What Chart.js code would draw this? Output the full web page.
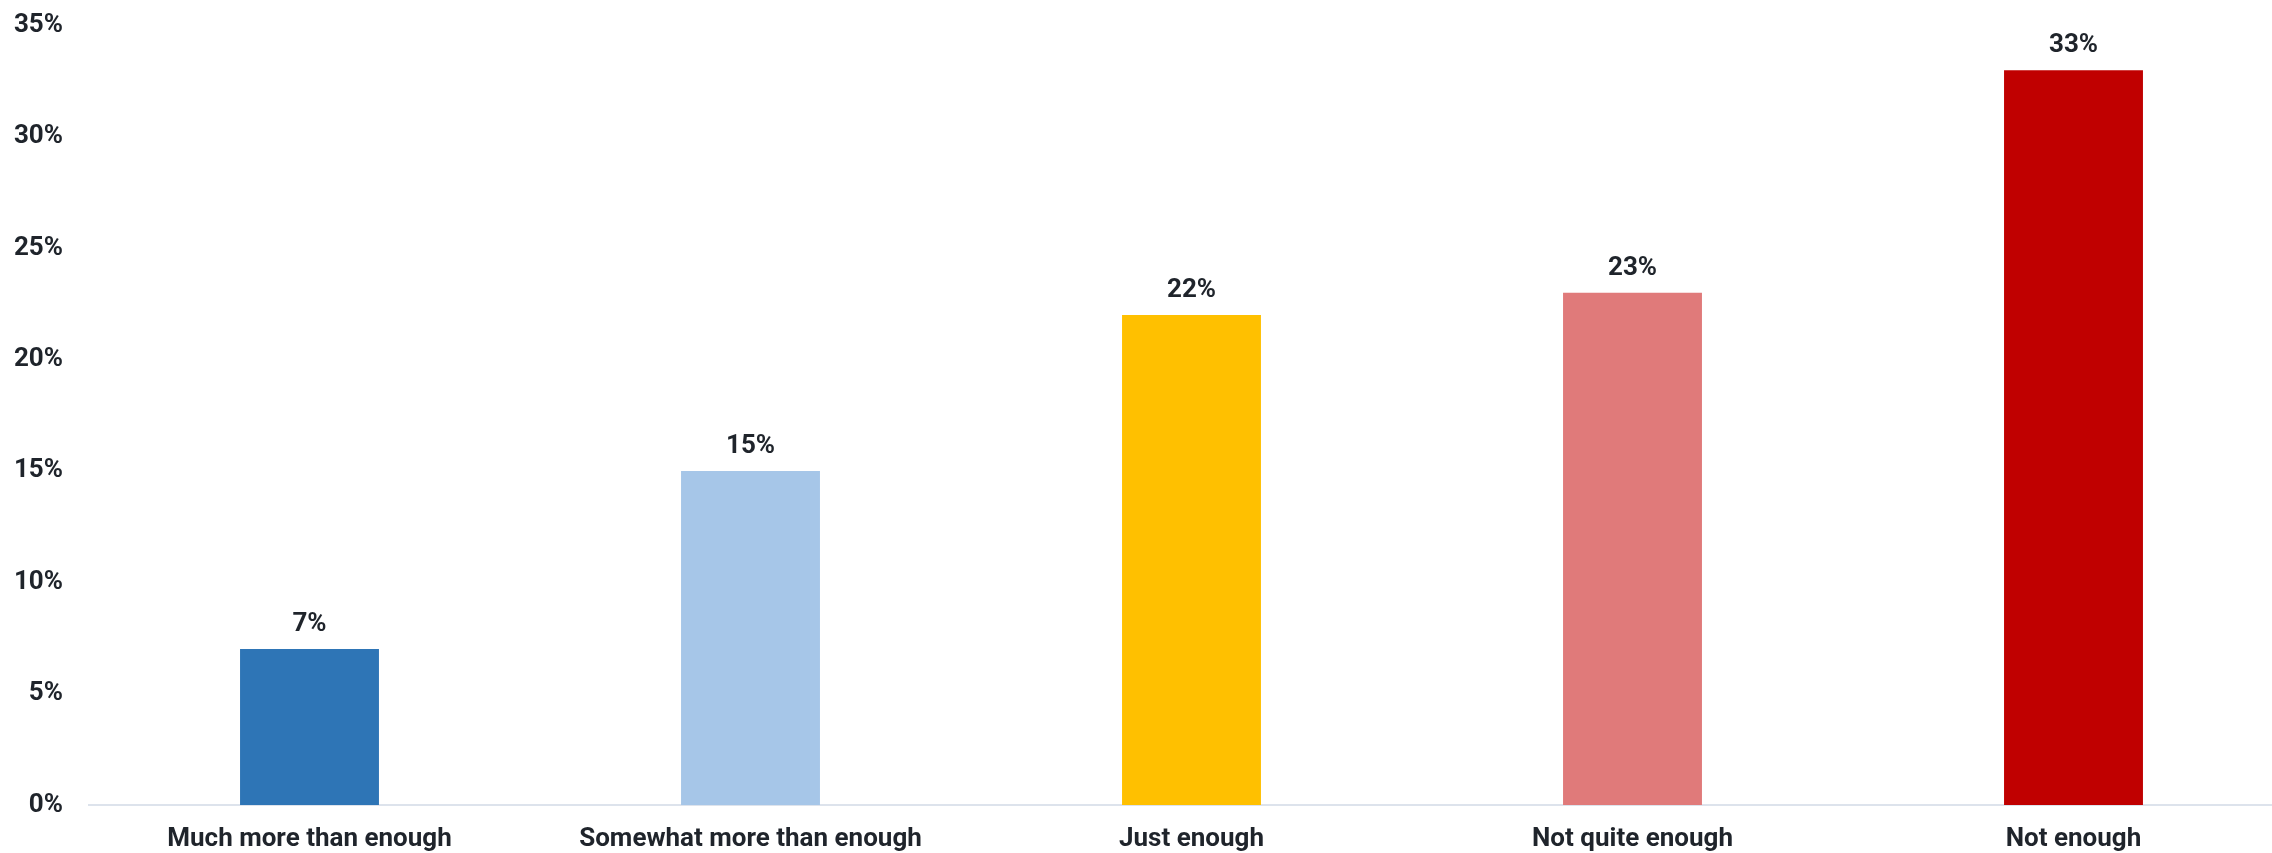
<!DOCTYPE html>
<html>
<head>
<meta charset="utf-8">
<script src="https://cdn.jsdelivr.net/npm/chart.js@4.4.1/dist/chart.umd.min.js"></script>
<style>
  html, body { margin: 0; padding: 0; background: #fff; overflow: hidden; }
  #wrap { width: 2294px; height: 869px; margin-top: -16px; position: relative; }
</style>
</head>
<body>
<div id="wrap"><canvas id="bars"></canvas></div>
<script>
const categories = ['Much more than enough', 'Somewhat more than enough', 'Just enough', 'Not quite enough', 'Not enough'];
const shares = [7, 15, 22, 23, 33];
const barColors = ['#2e75b6', '#a6c6e8', '#ffc000', '#e07a7a', '#c00000'];

const textColor = '#1f242b';
const font = { family: 'Roboto', size: 26, weight: 'bold' };

// percentage labels above each bar
const valueLabels = {
    id: 'valueLabels',
    afterDatasetsDraw(chart) {
        const ctx = chart.ctx;
        const meta = chart.getDatasetMeta(0);
        ctx.save();
        ctx.font = 'bold 26px Roboto';
        ctx.fillStyle = textColor;
        ctx.textAlign = 'center';
        ctx.textBaseline = 'alphabetic';
        meta.data.forEach((bar, i) => {
            ctx.fillText(shares[i] + '%', bar.x, bar.y - 18);
        });
        ctx.restore();
    }
};

new Chart(document.getElementById('bars'), {
    type: 'bar',
    data: {
        labels: categories,
        datasets: [{
            data: shares,
            backgroundColor: barColors,
            borderWidth: 0,
            categoryPercentage: 1,
            barPercentage: 0.315
        }]
    },
    options: {
        responsive: true,
        maintainAspectRatio: false,
        animation: false,
        layout: { padding: 0 },
        plugins: { legend: { display: false }, tooltip: { enabled: false } },
        scales: {
            x: {
                grid: { display: false, drawTicks: false },
                border: { display: true, color: '#dde3ec', width: 2 },
                ticks: { color: textColor, font, padding: 19, maxRotation: 0, autoSkip: false },
                afterFit: (scale) => { scale.height = 48; }
            },
            y: {
                min: 0,
                max: 35,
                grid: { display: false, drawTicks: false },
                border: { display: false },
                ticks: { stepSize: 5, color: textColor, font, padding: 26, callback: (v) => v + '%' },
                afterFit: (scale) => { scale.width = 89; }
            }
        }
    },
    plugins: [valueLabels]
});
</script>
</body>
</html>
